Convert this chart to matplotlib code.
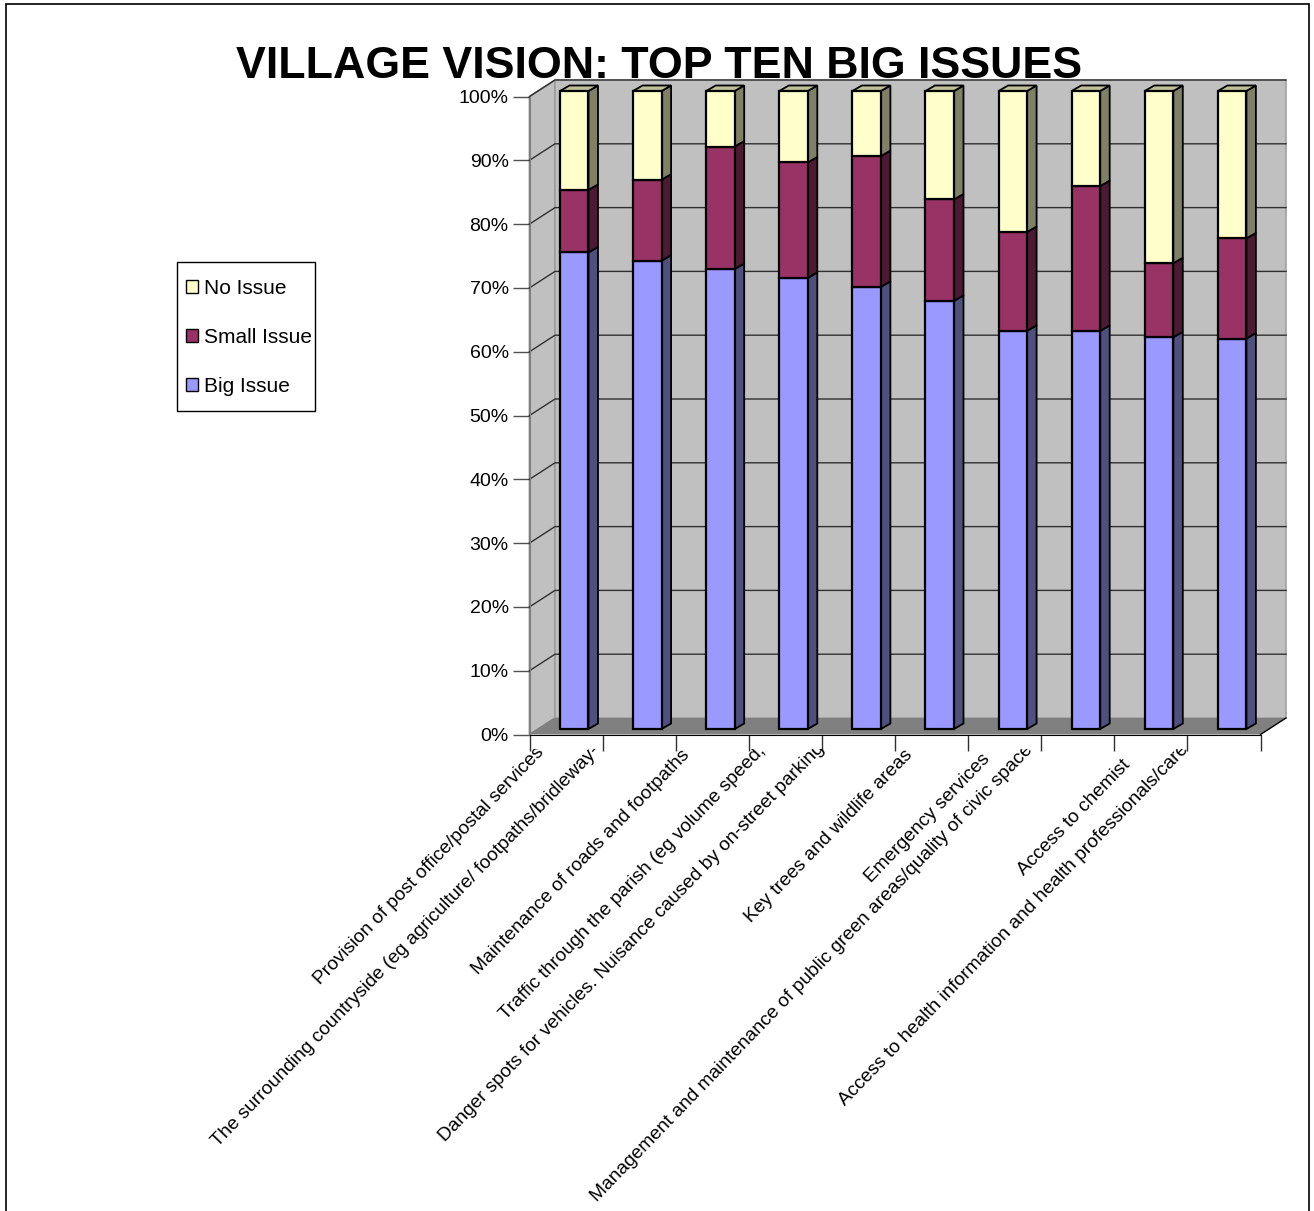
import numpy as np
import matplotlib
matplotlib.use('Agg')
import matplotlib.pyplot as plt
from matplotlib.patches import Patch, Rectangle
from matplotlib.transforms import Bbox

plt.rcParams['font.family'] = ['Liberation Sans', 'DejaVu Sans']

# Values (percent of answers)
labels = ['Provision of post office/postal services',
          'The surrounding countryside (eg agriculture/ footpaths/bridleway-',
          'Maintenance of roads and footpaths',
          'Traffic through the parish (eg volume speed,',
          'Danger spots for vehicles. Nuisance caused by on-street parking',
          'Key trees and wildlife areas',
          'Emergency services',
          'Management and maintenance of public green areas/quality of civic space',
          'Access to chemist',
          'Access to health information and health professionals/care']
big_issue = [74.7, 73.4, 72.1, 70.7, 69.3, 67.1, 62.4, 62.4, 61.4, 61.2]
small_issue = [9.8, 12.7, 19.2, 18.1, 20.5, 15.9, 15.5, 22.7, 11.6, 15.7]
no_issue = [15.5, 13.9, 8.7, 11.2, 10.2, 17.0, 22.1, 14.9, 27.0, 23.1]
series_names = ['Big Issue', 'Small Issue', 'No Issue']

W, H = 1314, 1211
front_col = ['#9999FF', '#993366', '#FFFFCC']
side_col = ['#50507F', '#4D1A33', '#808066']
top_col = '#BFBF99'

# Where the end of each rotated label sits, in pixels
label_ends = [(541, 750), (597, 748), (687, 752), (763, 748), (822, 746),
              (910, 752), (987, 756), (1030, 747), (1128, 762), (1186, 747)]

fig = plt.figure(figsize=(W / 100, H / 100), dpi=100)
ax = fig.add_axes([529.5 / W, 1 - 734.5 / H, 731 / W, 638 / H])
ax.set_xlim(-0.5, 9.5)
ax.set_ylim(0, 100)
ax.patch.set_visible(False)

# depth of the fake 3D box and of the bars, in data units
box_dx, box_dy = 25.5 / 73.1, 16.5 / 6.38
bar_off, bar_w = 0.112, 0.39
bar_dx, bar_dy = 9.5 / 73.1, 5.5 / 6.38
floor_off = 5.5 / 6.38

# walls and floor
ax.fill([-0.5, -0.5 + box_dx, -0.5 + box_dx, -0.5], [0, box_dy, 100 + box_dy, 100],
        fc='#C0C0C0', ec='#808080', lw=1.2, clip_on=False, zorder=1)
ax.fill([-0.5 + box_dx, 9.5 + box_dx, 9.5 + box_dx, -0.5 + box_dx],
        [box_dy, box_dy, 100 + box_dy, 100 + box_dy],
        fc='#C0C0C0', ec='#A0A0A0', lw=1.2, clip_on=False, zorder=1)
ax.fill([-0.5, 9.5, 9.5 + box_dx, -0.5 + box_dx], [0, 0, box_dy, box_dy],
        fc='#808080', ec='none', clip_on=False, zorder=2)
ax.plot([9.5, 9.5 + box_dx], [0, box_dy], color='black', lw=1, clip_on=False, zorder=2)

# gridlines on both walls
for g in range(10, 101, 10):
    ax.plot([-0.5, -0.5 + box_dx, 9.5 + box_dx], [g, g + box_dy, g + box_dy],
            color='#303030', lw=1, clip_on=False, zorder=2)

# stacked bars
x = np.arange(len(labels))
series = [np.array(big_issue), np.array(small_issue), np.array(no_issue)]
bottom = np.zeros(len(labels))
for vals, fc, sc in zip(series, front_col, side_col):
    ax.bar(x + bar_off, vals, bar_w, bottom=bottom + floor_off, color=fc, ec='black',
           lw=1.6, clip_on=False, zorder=4)
    for xi, b, v in zip(x, bottom, vals):
        xr = xi + bar_off + bar_w / 2
        y0 = b + floor_off
        ax.fill([xr, xr + bar_dx, xr + bar_dx, xr], [y0, y0 + bar_dy, y0 + v + bar_dy, y0 + v],
                fc=sc, ec='black', lw=1.3, clip_on=False, zorder=3)
    bottom = bottom + vals

# top caps
for xi, tot in zip(x, bottom):
    xl = xi + bar_off - bar_w / 2
    xr = xi + bar_off + bar_w / 2
    y0 = tot + floor_off
    ax.fill([xl, xr, xr + bar_dx, xl + bar_dx], [y0, y0, y0 + bar_dy, y0 + bar_dy],
            fc=top_col, ec='black', lw=1.3, clip_on=False, zorder=3)

ax.spines['top'].set_visible(False)
ax.spines['right'].set_visible(False)
ax.spines['left'].set_color('#808080')
ax.spines['bottom'].set_color('black')
ax.spines['left'].set_zorder(5)
ax.spines['bottom'].set_zorder(5)

ax.set_yticks(range(0, 101, 10))
ax.set_yticklabels([f'{v}%' for v in range(0, 101, 10)])
ax.set_xticks(np.arange(-0.5, 10, 1))
ax.set_xticklabels([])
ax.tick_params(axis='y', length=12, width=1, color='#505050', pad=3, labelsize=14)
ax.tick_params(axis='x', length=11.5, width=1, color='#303030')

# the reference cuts the label ends off just under the ticks
label_clip = Bbox([[0, 0], [W, H - 748.5]])
for lab, (px, py) in zip(labels, label_ends):
    t = fig.text(px / W, 1 - py / H, lab, rotation=46, rotation_mode='anchor',
                 ha='right', va='center', fontsize=13.75, color='black')
    t.set_clip_box(label_clip)
    t.set_clip_on(True)

fig.text(659.5 / W, 1 - 66 / H, 'VILLAGE VISION: TOP TEN BIG ISSUES', ha='center', va='center',
         fontsize=32.2, fontweight='bold', color='black', zorder=10)

# legend, last series on top; its box is drawn separately to get the wide spacing
fig.add_artist(Rectangle((177 / W, 1 - 411 / H), 138 / W, 149 / H, transform=fig.transFigure,
                         fc='white', ec='black', lw=1))
handles = [Patch(fc=front_col[i], ec='black', lw=1, label=series_names[i]) for i in (2, 1, 0)]
leg = fig.legend(handles=handles, loc='upper left',
                 bbox_to_anchor=(186 / W, 1 - 279 / H), bbox_transform=fig.transFigure,
                 frameon=False, fontsize=15, handlelength=0.58, handleheight=0.58,
                 handletextpad=0.28, labelspacing=1.44, borderpad=0, borderaxespad=0,
                 labelcolor='black')

# outer frame of the chart area runs off the bottom of the picture
fig.add_artist(Rectangle((6 / W, -0.02), 1303 / W, 1.02 - 4 / H, transform=fig.transFigure,
                         fc='none', ec='black', lw=1.2, clip_on=False))

fig.savefig('out.png', dpi=100, facecolor='white')
